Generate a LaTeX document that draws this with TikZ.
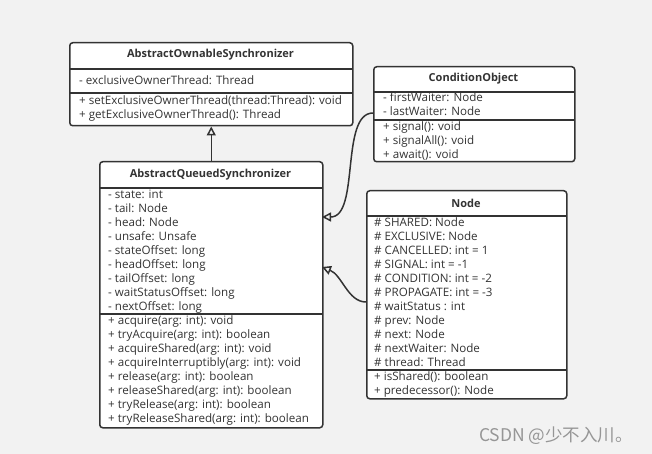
\documentclass[tikz,border=0pt]{standalone}
\usepackage{fontspec}
\setmainfont{Open Sans}
\newfontfamily\cjkfont{Noto Sans CJK SC}
\usetikzlibrary{arrows.meta}
\definecolor{bgcol}{RGB}{242,242,242}
\definecolor{linecol}{RGB}{51,51,51}
\definecolor{markcol}{RGB}{150,150,150}
\tikzset{
  classbox/.style={draw=linecol, line width=1.5pt, fill=white, rounded corners=3pt, inner sep=0pt, anchor=north west},
  classname/.style={font=\fontsize{11}{14}\selectfont\bfseries, text=linecol, inner sep=0pt},
  members/.style={font=\fontsize{11.6}{14}\selectfont, text=linecol, align=left, anchor=north west, inner sep=0pt},
  divider/.style={draw=linecol, line width=1.5pt},
  extends/.style={draw=linecol, line width=1.5pt, -{Triangle[open, length=9pt, width=9pt]}}
}
\begin{document}
\begin{tikzpicture}[x=1pt,y=-1pt]
\fill[bgcol] (0,0) rectangle (652,454);

% AbstractOwnableSynchronizer
\node[classbox, minimum width=283pt, minimum height=83pt] (aos) at (69,42) {};
\draw[divider] (69,69) -- (352,69);
\draw[divider] (69,93) -- (352,93);
\node[classname] (aostitle) at (210.5,55) {AbstractOwnableSynchronizer};
\node[members] (aosattr) at (79,74.8) {\strut- exclusiveOwnerThread: Thread};
\node[members] (aosops) at (79,94.8) {\strut+ setExclusiveOwnerThread(thread:Thread): void\\
+ getExclusiveOwnerThread(): Thread};

% AbstractQueuedSynchronizer
\node[classbox, minimum width=223pt, minimum height=266pt] (aqs) at (99,161) {};
\draw[divider] (99,188) -- (322,188);
\draw[divider] (99,314) -- (322,314);
\node[classname] (aqstitle) at (210.5,175) {AbstractQueuedSynchronizer};
\node[members] (aqsattr) at (108,188.8) {\strut- state: int\\
- tail: Node\\
- head: Node\\
- unsafe: Unsafe\\
- stateOffset: long\\
- headOffset: long\\
- tailOffset: long\\
- waitStatusOffset: long\\
- nextOffset: long};
\node[members] (aqsops) at (108,314.8) {\strut+ acquire(arg: int): void\\
+ tryAcquire(arg: int): boolean\\
+ acquireShared(arg: int): void\\
+ acquireInterruptibly(arg: int): void\\
+ release(arg: int): boolean\\
+ releaseShared(arg: int): boolean\\
+ tryRelease(arg: int): boolean\\
+ tryReleaseShared(arg: int): boolean};

% ConditionObject
\node[classbox, minimum width=201pt, minimum height=95pt] (co) at (373,66) {};
\draw[divider] (373,92) -- (574,92);
\draw[divider] (373,120) -- (574,120);
\node[classname] (cotitle) at (473.5,79) {ConditionObject};
\node[members] (coattr) at (383,91.8) {\strut- firstWaiter: Node\\
- lastWaiter: Node};
\node[members] (coops) at (383,120.8) {\strut+ signal(): void\\
+ signalAll(): void\\
+ await(): void};

% Node
\node[classbox, minimum width=200pt, minimum height=208pt] (nd) at (366,190) {};
\draw[divider] (366,216) -- (566,216);
\draw[divider] (366,370) -- (566,370);
\node[classname] (ndtitle) at (466,203) {Node};
\node[members] (ndattr) at (374,216.8) {\strut\# SHARED: Node\\
\# EXCLUSIVE: Node\\
\# CANCELLED: int = 1\\
\# SIGNAL: int = -1\\
\# CONDITION: int = -2\\
\# PROPAGATE: int = -3\\
\# waitStatus : int\\
\# prev: Node\\
\# next: Node\\
\# nextWaiter: Node\\
\# thread: Thread};
\node[members] (ndops) at (374,370.8) {\strut+ isShared(): boolean\\
+ predecessor(): Node};

% connectors
\coordinate (coout) at (373,113);
\coordinate (aqsin1) at (322,217);
\coordinate (ndout) at (366,302);
\coordinate (aqsin2) at (322,267);
\draw[extends] (aqs.north) -- (aos.south);
\draw[extends] (coout) .. controls (340,113) and (360,217) .. (aqsin1);
\draw[extends] (ndout) .. controls (348,302) and (342,275) .. (aqsin2);

\node[font=\cjkfont\fontsize{17.5}{20}\selectfont, text=markcol, anchor=base west, inner sep=0pt] (mark) at (479,441) {CSDN @少不入川。};
\end{tikzpicture}
\end{document}
